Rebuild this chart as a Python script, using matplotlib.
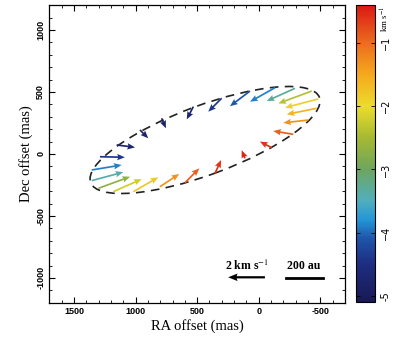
import numpy as np
import matplotlib
matplotlib.use("Agg")
import matplotlib.pyplot as plt
from matplotlib.patches import Ellipse
from matplotlib.colors import LinearSegmentedColormap, Normalize
from matplotlib.cm import ScalarMappable

plt.rcParams["mathtext.fontset"] = "stix"

# ---- data ----
ra_mas = [-105, -280, -402, -470, -483, -430, -294, -132, 71, 301, 531, 788,
          964, 1153, 1289, 1356, 1356, 1302, 1181, 1018, 802, 599, 355, 112]
dec_mas = [51, 159, 274, 369, 444, 508, 530, 535, 508, 450, 382, 288,
           194, 73, -22, -129, -215, -277, -304, -304, -264, -232, -156, -35]
v_ra = [0.64, 1.09, 1.36, 1.63, 1.81, 1.82, 1.54, 1.36, 1.09, 0.73, 0.36, -0.23,
        -0.45, -1.00, -1.36, -1.63, -1.72, -1.73, -1.55, -1.36, -1.05, -0.78, -0.33, 0.18]
v_dec = [0.33, 0.18, -0.15, -0.33, -0.47, -0.67, -0.69, -0.76, -0.82, -0.73, -0.69, -0.54,
         -0.45, -0.13, -0.03, 0.27, 0.46, 0.63, 0.68, 0.78, 0.69, 0.78, 0.72, 0.44]
v_los = [-0.6, -0.9, -1.3, -1.6, -1.9, -2.4, -3.3, -3.9, -4.1, -4.4, -4.7, -4.8,
         -4.8, -4.7, -4.4, -3.9, -3.4, -2.7, -2.2, -1.8, -1.3, -0.9, -0.6, -0.5]

ring_center = (436, 113)
ring_axes = (990, 279)
ring_angle = -20.3

scale_speed = 2.0      # km/s
scale_length = 300     # mas (200 au)

xticks = [1500, 1000, 500, 0, -500]
yticks = [1000, 500, 0, -500, -1000]
cbar_ticks = [-1, -2, -3, -4, -5]

mas_per_kms = 149.0

# ---- colormap ----
vmin, vmax = -5.1, -0.4
stops = [(-5.1, (25, 25, 85)), (-4.5, (30, 45, 130)), (-4.1, (30, 85, 170)),
         (-3.8, (35, 150, 215)), (-3.5, (80, 175, 190)), (-3.0, (110, 165, 95)),
         (-2.5, (165, 185, 50)), (-2.0, (235, 220, 45)), (-1.5, (245, 170, 30)),
         (-1.0, (235, 110, 30)), (-0.4, (220, 25, 20))]
cmap = LinearSegmentedColormap.from_list(
    "vel", [((v - vmin) / (vmax - vmin), tuple(c / 255 for c in col)) for v, col in stops])
norm = Normalize(vmin, vmax)

fig = plt.figure(figsize=(4, 3.42), dpi=100)
W, H = 400, 342
ax = fig.add_axes([49.3 / W, 1 - 302.7 / H, 295.7 / W, 297.4 / H])

ax.add_patch(Ellipse(ring_center, 2 * ring_axes[0], 2 * ring_axes[1], angle=ring_angle,
                     fill=False, edgecolor="#222222", lw=1.2, ls=(0, (5.2, 3.8))))

ax.quiver(ra_mas, dec_mas, v_ra, v_dec, v_los, cmap=cmap, norm=norm,
          angles="xy", scale_units="xy", scale=1 / mas_per_kms,
          width=0.0058, headwidth=3.7, headlength=4.5, headaxislength=4.0, zorder=3)

# scale arrow and bar
ax.quiver([-50], [-995], [scale_speed], [0], color="black", angles="xy",
          scale_units="xy", scale=1 / mas_per_kms, width=0.0075,
          headwidth=3.4, headlength=4.2, headaxislength=3.8)
ax.text(100, -905, "2 km s$^{-1}$", family="Liberation Serif", fontsize=8.5,
        fontweight="bold", ha="center", va="center")
ax.plot([-220, -220 - scale_length], [-1000, -1000], color="black", lw=2)
ax.text(-365, -905, "200 au", family="Liberation Serif", fontsize=8.5,
        fontweight="bold", ha="center", va="center")

ax.set_xlim(1700, -700)
ax.set_ylim(-1200, 1200)
ax.set_xticks(xticks)
ax.set_xticklabels([str(t) for t in xticks])
ax.set_yticks(yticks)
ax.set_yticklabels([str(t) for t in yticks], rotation=90, va="center")
ax.set_xticks(np.arange(-700, 1701, 100), minor=True)
ax.set_yticks(np.arange(-1200, 1201, 100), minor=True)
ax.tick_params(which="both", direction="in", top=True, right=True,
               labelsize=6.5, pad=3)
ax.tick_params(which="major", length=4.5, width=0.8)
ax.tick_params(which="minor", length=2.5, width=0.6)
for lab in ax.get_xticklabels() + ax.get_yticklabels():
    lab.set_family("Liberation Sans")
    lab.set_fontweight("bold")
for s in ax.spines.values():
    s.set_linewidth(0.9)
ax.set_xlabel("RA offset (mas)", family="Liberation Serif", fontsize=10.5, labelpad=2)
ax.set_ylabel("Dec offset (mas)", family="Liberation Serif", fontsize=10.5, labelpad=2)

# colorbar
cax = fig.add_axes([356 / W, 1 - 302 / H, 19 / W, 296.7 / H])
cb = fig.colorbar(ScalarMappable(norm=norm, cmap=cmap), cax=cax, ticks=cbar_ticks)
cb.outline.set_linewidth(0.8)
cax.set_yticklabels(["\u22121", "\u22122", "\u22123", "\u22124", "-5"],
                    rotation=90, va="center", fontsize=7)
cax.tick_params(direction="in", left=True, right=True, length=3, width=0.6, pad=4)
cax.text(1.55, 0.955, "km s$^{-1}$", transform=cax.transAxes, rotation=90,
         fontsize=6.5, ha="center", va="center", family="Liberation Serif")

fig.savefig("out.png", dpi=100)
